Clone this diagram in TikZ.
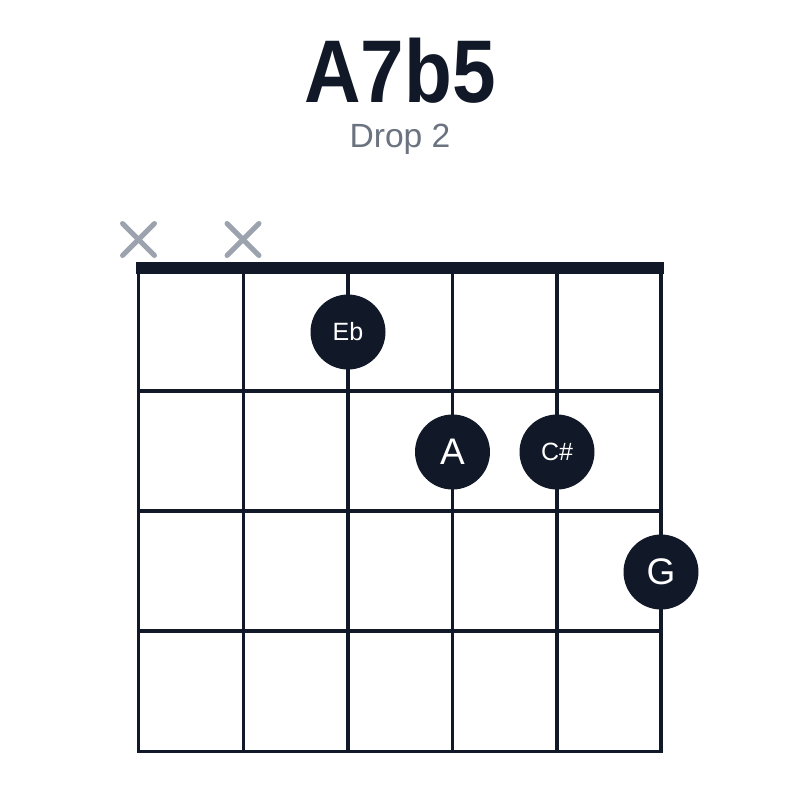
\documentclass[tikz,border=0pt]{standalone}
\usepackage{fontspec}
\setmainfont{Liberation Sans}
\newfontfamily\titlefont[FakeStretch=0.88]{Liberation Sans}
\usepackage{tikz}
\usetikzlibrary{positioning}
\definecolor{inkdark}{HTML}{111827}
\definecolor{mutegray}{HTML}{9CA3AF}
\definecolor{subgray}{HTML}{6B7280}

\begin{document}
\begin{tikzpicture}[x=0.5pt, y=-0.5pt,
        gridline/.style={draw=inkdark, line width=1.75pt},
        nutbar/.style={fill=inkdark},
        mutemark/.style={draw=mutegray, line width=2.5pt, line cap=round},
        finger/.style={circle, fill=inkdark, text=white, minimum size=37.5pt, inner sep=0pt},
        bignote/.style={font=\fontsize{18.5}{18.5}\selectfont},
        smallnote/.style={font=\fontsize{12.5}{12.5}\selectfont}
    ]
        \useasboundingbox (0,0) rectangle (800,800);

        % Title
        \node[anchor=base, text=inkdark, font=\titlefont\bfseries\fontsize{44.5}{44.5}\selectfont] (title) at (400,102) {A7b5};
        \node[anchor=base, text=subgray, font=\fontsize{16.8}{16.8}\selectfont] (subtitle) at (400,147) {Drop 2};

        % Muted strings
        \draw[mutemark] (122.5,223.5) -- (154.5,255.5);
        \draw[mutemark] (122.5,255.5) -- (154.5,223.5);
        \draw[mutemark] (227,223.5) -- (259,255.5);
        \draw[mutemark] (227,255.5) -- (259,223.5);

        % Strings
        \draw[gridline] (138.7,268) -- (138.7,751.5);
        \draw[gridline] (243.5,268) -- (243.5,751.5);
        \draw[gridline] (348,268) -- (348,751.5);
        \draw[gridline] (452.5,268) -- (452.5,751.5);
        \draw[gridline] (557,268) -- (557,751.5);
        \draw[gridline] (661,268) -- (661,751.5);

        % Frets
        \draw[gridline] (138.7,391) -- (661,391);
        \draw[gridline] (138.7,511) -- (661,511);
        \draw[gridline] (138.7,631) -- (661,631);
        \draw[gridline, line cap=rect] (138.7,751.5) -- (661,751.5);

        % Nut
        \fill[nutbar] (136,262) rectangle (663.5,274);

        % Fingers
        \node[finger, smallnote] (eb) at (348,332) {Eb};
        \node[finger, bignote] (a) at (452.5,452) {A};
        \node[finger, smallnote] (cs) at (557,452) {C\#};
        \node[finger, bignote] (g) at (661,572) {G};

    \end{tikzpicture}
\end{document}
